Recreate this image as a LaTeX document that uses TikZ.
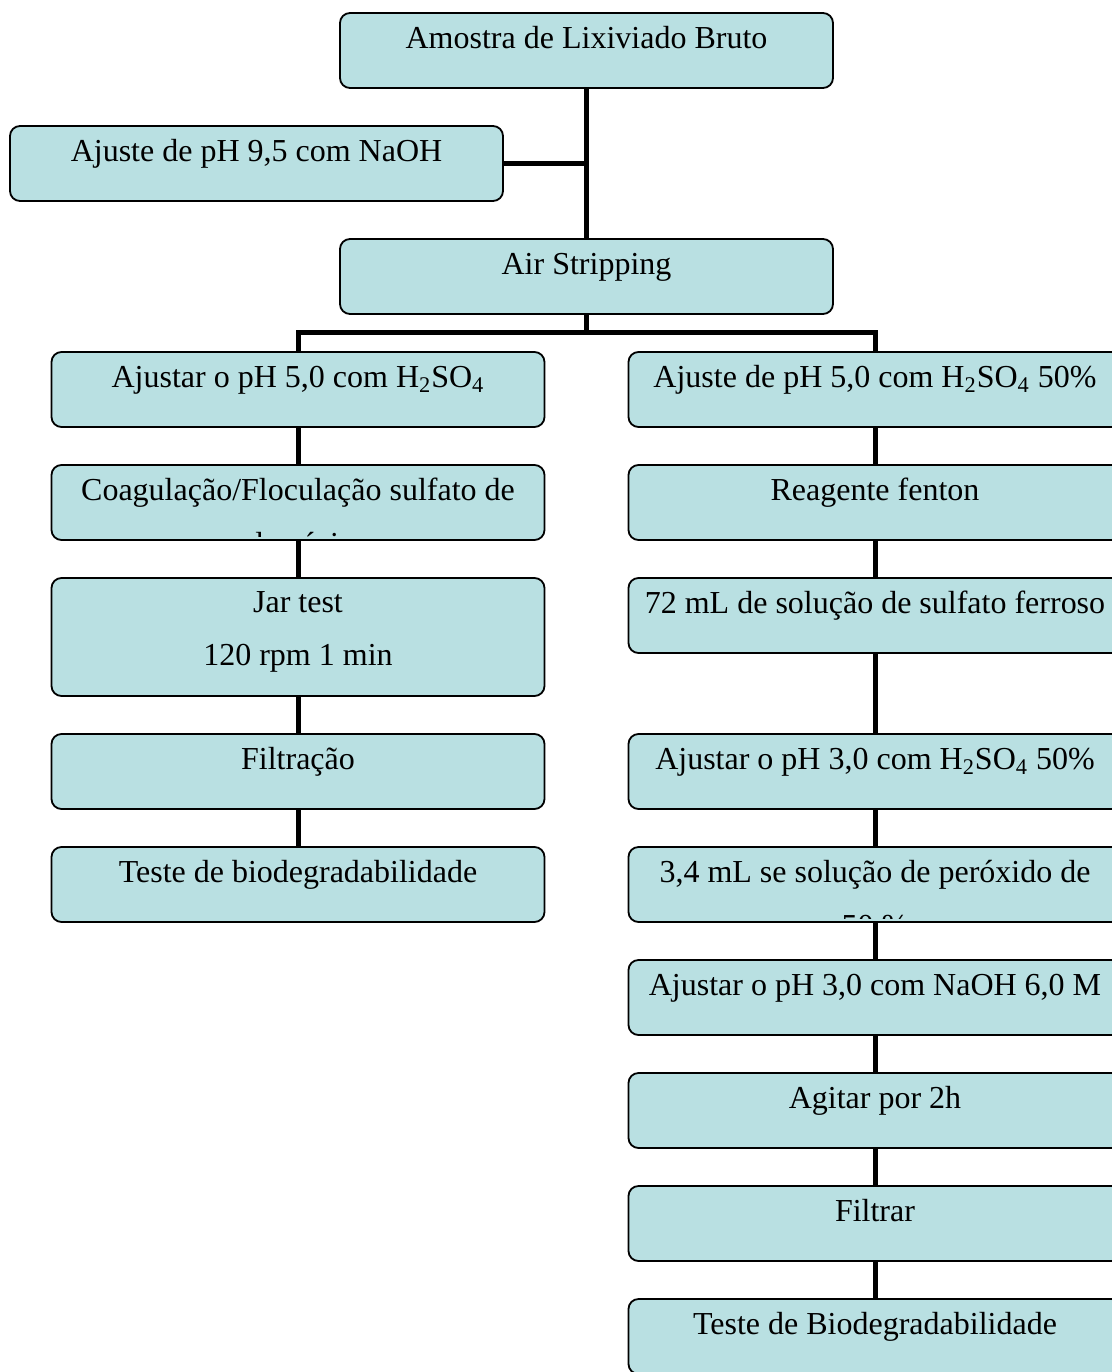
\documentclass[tikz,border=0pt]{standalone}
\usepackage{fontspec}
\setmainfont{Liberation Serif}
\usepackage{xcolor}
\usetikzlibrary{positioning}
\definecolor{boxblue}{RGB}{185,224,226}

\begin{document}
\begin{tikzpicture}[
    x=0.5pt, y=-0.5pt,
    node distance=19pt,
    font=\fontsize{16}{26.5}\selectfont,
    box/.style={rectangle, draw, line width=0.9pt, fill=boxblue, rounded corners=5pt, minimum width=246.5pt, inner sep=0pt, outer sep=0pt, text height=17.5pt, text depth=20pt},
    tallbox/.style={box, text height=17pt, text depth=42pt},
    line/.style={draw, line width=2.5pt}
]
    \useasboundingbox (0,0) rectangle (1112,1372);
    \clip (0,0) rectangle (1112,1372);

    % Nodes
    \node [box] (amostra) at (586.5,50.5) {Amostra de Lixiviado Bruto};
    \node [box, below=19pt of amostra, xshift=-165pt] (ajuste) {Ajuste de pH 9,5 com NaOH};
    \node [box, below=19pt of ajuste, xshift=165pt] (air) {Air Stripping};

    \node [box, below=19pt of air, xshift=-144.25pt] (phleft) {Ajustar o pH 5,0 com H\textsubscript{2}SO\textsubscript{4}};
    \node [box, below=of phleft] (coag) {Coagulação/Floculação sulfato de};
    \node [tallbox, below=of coag] (jar) {\begin{tabular}[t]{@{}c@{}}Jar test\\120 rpm 1 min\end{tabular}};
    \node [box, below=of jar] (filtr) {Filtração};
    \node [box, below=of filtr] (testeleft) {Teste de biodegradabilidade};

    \node [box, below=19pt of air, xshift=144.25pt] (phright) {Ajuste de pH 5,0 com H\textsubscript{2}SO\textsubscript{4} 50\%};
    \node [box, below=of phright] (fenton) {Reagente fenton};
    \node [box, below=of fenton] (ferro) {72 mL de solução de sulfato ferroso};
    \node [box, below=40.5pt of ferro] (phtres) {Ajustar o pH 3,0 com H\textsubscript{2}SO\textsubscript{4} 50\%};
    \node [box, below=of phtres] (perox) {3,4 mL se solução de peróxido de};
    \node [box, below=of perox] (naoh) {Ajustar o pH 3,0 com NaOH 6,0 M};
    \node [box, below=of naoh] (agitar) {Agitar por 2h};
    \node [box, below=of agitar] (filtrar) {Filtrar};
    \node [box, below=of filtrar] (testeright) {Teste de Biodegradabilidade};

    % Cut-off second lines
    \begin{scope}
        \clip ([yshift=1.75pt]coag.south west) rectangle (coag.north east);
        \node [anchor=base] (coagtail) at ([yshift=-7pt]coag.south) {alumínio};
    \end{scope}
    \begin{scope}
        \clip ([yshift=1.75pt]perox.south west) rectangle (perox.north east);
        \node [anchor=base] (peroxtail) at ([yshift=-7pt]perox.south) {50 \%};
    \end{scope}

    % Paths
    \path [line] (amostra) -- (air);
    \path [line] (ajuste.east) -- (ajuste.east -| amostra.south);
    \coordinate [below=9pt of air] (split);
    \path [line] (air) -- (split);
    \path [line] (phleft.north) |- (split) -| (phright.north);

    \path [line] (phleft) -- (coag);
    \path [line] (coag) -- (jar);
    \path [line] (jar) -- (filtr);
    \path [line] (filtr) -- (testeleft);

    \path [line] (phright) -- (fenton);
    \path [line] (fenton) -- (ferro);
    \path [line] (ferro) -- (phtres);
    \path [line] (phtres) -- (perox);
    \path [line] (perox) -- (naoh);
    \path [line] (naoh) -- (agitar);
    \path [line] (agitar) -- (filtrar);
    \path [line] (filtrar) -- (testeright);

\end{tikzpicture}
\end{document}
